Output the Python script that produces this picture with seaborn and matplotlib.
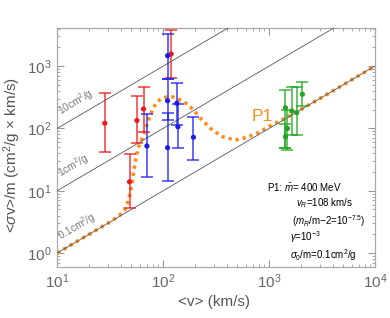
import numpy as np
import pandas as pd
import matplotlib
matplotlib.use("Agg")
import matplotlib.pyplot as plt
import seaborn as sns
from matplotlib.ticker import LogLocator, NullFormatter, LogFormatterMathtext

# ---------------- data ----------------
red_v = [28.1, 56.5, 65.2, 48.1, 119]
red_y = [121, 134, 205, 13.9, 1564]
red_hi = [366, 331, 467, 38.8, 3795]
red_lo = [41.8, 58.9, 88.5, 5.3, 637]

blue_v = [70.2, 110, 110, 110, 134.6, 137.6, 193]
blue_y = [52.2, 1469, 278, 49, 253, 106, 72]
blue_hi = [170, 3238, 621, 175, 542, 244, 154]
blue_lo = [16.8, 621, 136, 14.3, 113, 47.6, 31.1]

green_v = [1426, 1489, 1426, 1638, 1825, 2061]
green_y = [215, 100, 73.6, 190, 179, 353]
green_hi = [413, 197, 116, 457, 457, 562]
green_lo = [48, 45, 48, 78, 78, 231]

curve_v = [10, 20, 30, 38, 43, 47, 49, 51, 53, 56, 59, 63, 67, 72, 78, 85, 95,
           110, 125, 145, 170, 200, 230, 280, 360, 480, 620, 820, 1000, 1300,
           1600, 2500, 5000, 10000]
curve_y = [1.0, 2.0, 3.0, 3.9, 4.8, 7.0, 9.5, 14, 22, 38, 52, 68, 90, 130, 185,
           250, 300, 322, 318, 285, 245, 185, 140, 100, 74, 65, 72, 88, 108,
           135, 163, 250, 500, 1000]

sigma_lines = [0.1, 1, 10]
sigma_labels = ["0.1cm$^2$/g", "1cm$^2$/g", "10cm$^2$/g"]
line_v = np.array([10.0, 1e4])

xticks = [10, 100, 1000, 10000]
yticks = [1, 10, 100, 1000]

# ---------------- style ----------------
sns.set_theme(style="ticks")
plt.rcParams['font.family'] = ['Liberation Sans', 'DejaVu Sans']
plt.rcParams['mathtext.fontset'] = 'custom'
plt.rcParams['mathtext.rm'] = 'Liberation Sans'
plt.rcParams['mathtext.it'] = 'Liberation Sans:italic'
plt.rcParams['mathtext.bf'] = 'Liberation Sans:bold'

fig = plt.figure(figsize=(3.9, 3.18), dpi=100)
ax = fig.add_axes([57.3/390, 1-266.7/318, 317.7/390, 238.7/318])
ax.set_xscale('log')
ax.set_yscale('log')
ax.set_xlim(10, 1e4)
ax.set_ylim(0.603, 4087)

# reference lines
for k in sigma_lines:
    ax.plot(line_v, k*line_v, color='#555555', lw=0.6, zorder=3)

# resonance curve
df_c = pd.DataFrame({'v': curve_v, 'y': curve_y})
sns.lineplot(data=df_c, x='v', y='y', sort=False, estimator=None, ax=ax,
             color='#ff8c1a', lw=2.6, zorder=2)
ax.lines[-1].set_dashes((0.9, 1.1))
ax.lines[-1].set_dash_capstyle('butt')

# data with error bars
groups = [
    (red_v, red_y, red_lo, red_hi, '#f01818'),
    (blue_v, blue_y, blue_lo, blue_hi, '#1c1cf0'),
    (green_v, green_y, green_lo, green_hi, '#1fa51f'),
]
for v, y, lo, hi, col in groups:
    y = np.array(y); lo = np.array(lo); hi = np.array(hi)
    ax.errorbar(v, y, yerr=[y-lo, hi-y], fmt='none', ecolor=col,
                elinewidth=1.1, capsize=4.3, capthick=1.1, alpha=0.85, zorder=4)
    sns.scatterplot(x=v, y=y, color=col, s=14, edgecolor='none', ax=ax, zorder=5)

# labels on reference lines
ax.figure.canvas.draw()
p0 = ax.transData.transform((10, 1))
p1 = ax.transData.transform((100, 10))
ang = np.degrees(np.arctan2(p1[1]-p0[1], p1[0]-p0[0]))
for k, lab in zip(sigma_lines, sigma_labels):
    ax.text(11.3, k*11.3*1.25, lab, rotation=ang, rotation_mode='anchor',
            ha='left', va='bottom', color='#777777', fontsize=7.3, zorder=3)

ax.text(867, 158, "P1", color='#ff8c1a', fontsize=12.5, ha='center', va='center')

tc = 'black'
ax.text(0.660, 0.335, r"P1: $\bar{m}$= 400 MeV", transform=ax.transAxes,
        fontsize=7, va='center', ha='left', color=tc)
ax.text(0.751, 0.267, r"$v_R$=108 km/s", transform=ax.transAxes,
        fontsize=7, va='center', ha='left', color=tc)
ax.text(0.739, 0.191, r"($m_R$/m$-$2=10$^{-7.5}$)", transform=ax.transAxes,
        fontsize=7, va='center', ha='left', color=tc)
ax.text(0.732, 0.124, r"$\gamma$=10$^{-3}$", transform=ax.transAxes,
        fontsize=7, va='center', ha='left', color=tc)
ax.text(0.732, 0.049, r"$\sigma_0$/m=0.1cm$^2$/g", transform=ax.transAxes,
        fontsize=7, va='center', ha='left', color=tc)

# axes cosmetics
ax.set_xticks(xticks)
ax.set_yticks(yticks)
ax.xaxis.set_major_formatter(LogFormatterMathtext())
ax.yaxis.set_major_formatter(LogFormatterMathtext())
ax.xaxis.set_minor_locator(LogLocator(base=10, subs=np.arange(2, 10), numticks=20))
ax.yaxis.set_minor_locator(LogLocator(base=10, subs=np.arange(2, 10), numticks=20))
ax.xaxis.set_minor_formatter(NullFormatter())
ax.yaxis.set_minor_formatter(NullFormatter())
ax.tick_params(which='both', direction='in', top=True, right=True, color='#999999')
ax.tick_params(which='major', length=5, width=0.8, labelsize=11, labelcolor='#666666', pad=4)
ax.tick_params(which='minor', length=2.5, width=0.6)
for s in ax.spines.values():
    s.set_color('#aaaaaa')
    s.set_linewidth(0.9)

ax.set_xlabel("<v> (km/s)", fontsize=11, color='#555555')
ax.set_ylabel(r"<$\sigma$v>/m (cm$^2$/g × km/s)", fontsize=11, color='#555555')
ax.xaxis.set_label_coords(0.493, -0.119)
ax.yaxis.set_label_coords(-0.108, 0.47)

fig.savefig("out.png", dpi=100)
